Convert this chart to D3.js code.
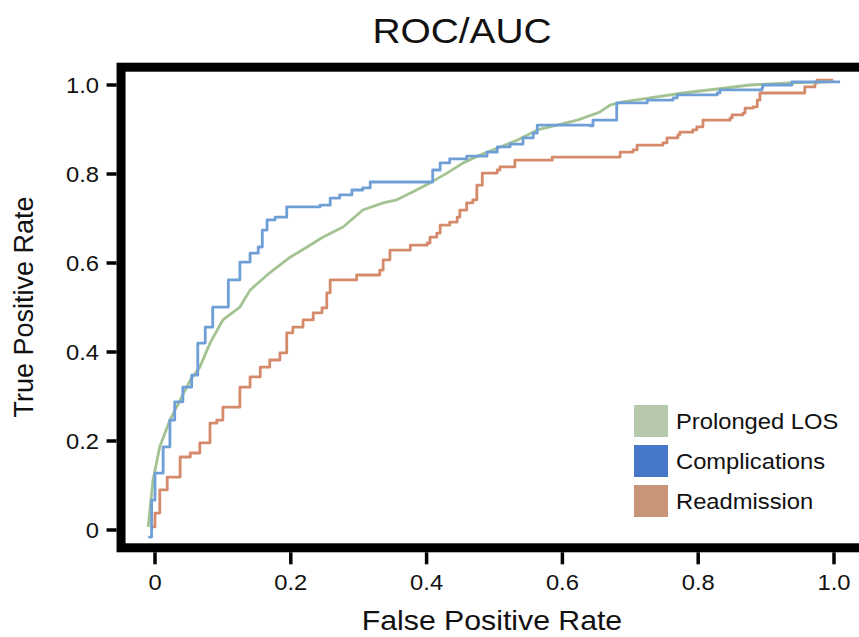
<!DOCTYPE html>
<html>
<head>
<meta charset="utf-8">
<script src="https://cdn.jsdelivr.net/npm/d3@7"></script>
<style>
  body { margin: 0; background: #fff; }
  text { font-family: "Liberation Sans", Arial, sans-serif; fill: #111; }
</style>
</head>
<body>
<div class="chart"></div>
<script>
var WIDTH = 859;
var HEIGHT = 637;
var STRETCH = 1.08; // the original lettering is a bit wider than Arial

var seriesNames = ['Prolonged LOS', 'Complications', 'Readmission'];
var swatchColours = ['#b7c9ad', '#4677c8', '#c99579'];
var lineColours = ['#a3c392', '#6f9fd6', '#d68a6c'];
var xTicks = [0, 0.2, 0.4, 0.6, 0.8, 1.0];
var yTicks = [0, 0.2, 0.4, 0.6, 0.8, 1.0];
var xTickLabels = ['0', '0.2', '0.4', '0.6', '0.8', '1.0'];
var yTickLabels = ['0', '0.2', '0.4', '0.6', '0.8', '1.0'];

// [false positive rate, true positive rate]
var prolongedLOS = [
  [-0.010, 0.007], [-0.003, 0.112], [0.007, 0.187], [0.022, 0.247], [0.037, 0.292],
  [0.052, 0.337], [0.066, 0.366], [0.081, 0.420], [0.100, 0.472], [0.125, 0.501],
  [0.140, 0.539], [0.169, 0.578], [0.199, 0.613], [0.224, 0.636], [0.247, 0.658],
  [0.277, 0.681], [0.306, 0.719], [0.336, 0.735], [0.356, 0.742], [0.380, 0.760],
  [0.405, 0.780], [0.430, 0.802], [0.454, 0.825], [0.479, 0.843], [0.504, 0.858],
  [0.533, 0.876], [0.563, 0.899], [0.592, 0.910], [0.622, 0.921], [0.655, 0.939],
  [0.670, 0.955], [0.689, 0.962], [0.729, 0.971], [0.778, 0.982], [0.828, 0.991],
  [0.876, 1.000], [0.925, 1.004], [0.994, 1.007]
];
var complications = [
  [-0.010, -0.016], [-0.005, 0.067], [0.000, 0.128], [0.012, 0.187], [0.022, 0.247],
  [0.029, 0.288], [0.041, 0.321], [0.054, 0.348], [0.063, 0.420], [0.074, 0.456],
  [0.085, 0.501], [0.096, 0.501], [0.108, 0.562], [0.125, 0.602], [0.140, 0.622],
  [0.152, 0.636], [0.158, 0.674], [0.165, 0.697], [0.177, 0.703], [0.194, 0.726],
  [0.243, 0.730], [0.258, 0.746], [0.272, 0.753], [0.290, 0.764], [0.306, 0.769],
  [0.317, 0.782], [0.405, 0.782], [0.409, 0.809], [0.420, 0.825], [0.434, 0.834],
  [0.459, 0.840], [0.489, 0.849], [0.504, 0.861], [0.523, 0.867], [0.542, 0.881],
  [0.557, 0.892], [0.563, 0.910], [0.601, 0.910], [0.641, 0.908], [0.645, 0.921],
  [0.675, 0.921], [0.680, 0.960], [0.725, 0.966], [0.763, 0.971], [0.769, 0.978],
  [0.828, 0.982], [0.832, 0.989], [0.894, 0.993], [0.895, 1.000], [0.935, 1.000],
  [0.938, 1.007], [1.009, 1.007]
];
var readmission = [
  [-0.007, 0.007], [0.000, 0.038], [0.007, 0.090], [0.018, 0.119], [0.032, 0.119],
  [0.037, 0.164], [0.052, 0.173], [0.066, 0.196], [0.081, 0.240], [0.091, 0.247],
  [0.100, 0.276], [0.110, 0.276], [0.125, 0.321], [0.140, 0.344], [0.155, 0.366],
  [0.169, 0.382], [0.184, 0.398], [0.194, 0.443], [0.203, 0.456], [0.218, 0.472],
  [0.233, 0.488], [0.246, 0.499], [0.253, 0.533], [0.258, 0.562], [0.292, 0.562],
  [0.297, 0.573], [0.331, 0.584], [0.336, 0.607], [0.346, 0.629], [0.376, 0.640],
  [0.401, 0.645], [0.405, 0.658], [0.415, 0.667], [0.420, 0.685], [0.434, 0.692],
  [0.445, 0.703], [0.449, 0.719], [0.459, 0.735], [0.468, 0.742], [0.474, 0.775],
  [0.482, 0.802], [0.504, 0.809], [0.508, 0.816], [0.527, 0.816], [0.530, 0.831],
  [0.579, 0.831], [0.585, 0.838], [0.680, 0.838], [0.685, 0.849], [0.704, 0.854],
  [0.710, 0.865], [0.748, 0.870], [0.754, 0.881], [0.770, 0.888], [0.773, 0.894],
  [0.792, 0.899], [0.798, 0.906], [0.807, 0.921], [0.847, 0.926], [0.850, 0.933],
  [0.866, 0.937], [0.869, 0.948], [0.881, 0.951], [0.887, 0.966], [0.891, 0.982],
  [0.954, 0.982], [0.957, 0.996], [0.972, 1.004], [0.975, 1.011], [0.999, 1.011]
];

var x = d3.scaleLinear().domain([0, 1]).range([155, 834]);
var y = d3.scaleLinear().domain([0, 1]).range([530, 85]);

var svg = d3.select('.chart')
    .append('svg')
    .attr('width', WIDTH)
    .attr('height', HEIGHT);

function place(px, py) {
    return 'translate(' + px + ',' + py + ')scale(' + STRETCH + ',1)';
}

// title
svg.append('text')
    .attr('transform', place(462, 43))
    .attr('text-anchor', 'middle')
    .style('font-size', '36px')
    .text('ROC/AUC');

// thick frame, right side runs past the window like the original
var FRAME = 9;
var fx0 = x(-0.05), fx1 = x(1.06), fy0 = y(1.04), fy1 = y(-0.04);
svg.append('rect')
    .attr('x', fx0)
    .attr('y', fy0)
    .attr('width', fx1 - fx0)
    .attr('height', fy1 - fy0)
    .attr('fill', 'none')
    .attr('stroke', '#000')
    .attr('stroke-width', FRAME);

// y ticks
svg.selectAll('.ytick')
    .data(yTicks)
    .enter().append('line')
    .attr('class', 'ytick')
    .attr('x1', fx0 - FRAME / 2)
    .attr('x2', fx0 - FRAME / 2 - 10)
    .attr('y1', (d) => y(d))
    .attr('y2', (d) => y(d))
    .attr('stroke', '#000')
    .attr('stroke-width', 3.5);

svg.selectAll('.ylabel')
    .data(yTicks)
    .enter().append('text')
    .attr('class', 'ylabel')
    .attr('transform', (d) => place(99, y(d)))
    .attr('dy', '0.36em')
    .attr('text-anchor', 'end')
    .style('font-size', '22px')
    .text((d, i) => yTickLabels[i]);

// x ticks
svg.selectAll('.xtick')
    .data(xTicks)
    .enter().append('line')
    .attr('class', 'xtick')
    .attr('x1', (d) => x(d))
    .attr('x2', (d) => x(d))
    .attr('y1', fy1 + FRAME / 2)
    .attr('y2', fy1 + FRAME / 2 + 12)
    .attr('stroke', '#000')
    .attr('stroke-width', 3.5);

svg.selectAll('.xlabel')
    .data(xTicks)
    .enter().append('text')
    .attr('class', 'xlabel')
    .attr('transform', (d) => place(x(d), 590))
    .attr('text-anchor', 'middle')
    .style('font-size', '22px')
    .text((d, i) => xTickLabels[i]);

// axis titles
svg.append('text')
    .attr('transform', place(492, 630))
    .attr('text-anchor', 'middle')
    .style('font-size', '28px')
    .text('False Positive Rate');

svg.append('text')
    .attr('transform', 'translate(33, 307)rotate(-90)')
    .attr('text-anchor', 'middle')
    .style('font-size', '27px')
    .text('True Positive Rate');

// curves: the two event curves are drawn as steps, LOS is near smooth
var stepLine = d3.line()
    .curve(d3.curveStepAfter)
    .x((d) => x(d[0]))
    .y((d) => y(d[1]));
var smoothLine = d3.line()
    .x((d) => x(d[0]))
    .y((d) => y(d[1]));

var curves = [
    { pts: readmission, colour: lineColours[2], gen: stepLine },
    { pts: prolongedLOS, colour: lineColours[0], gen: smoothLine },
    { pts: complications, colour: lineColours[1], gen: stepLine }
];

svg.append('g')
    .selectAll('path')
    .data(curves)
    .enter().append('path')
    .attr('d', (d) => d.gen(d.pts))
    .attr('fill', 'none')
    .attr('stroke', (d) => d.colour)
    .attr('stroke-width', 2.8)
    .attr('stroke-linejoin', 'round');

// legend
var legend = svg.append('g')
    .selectAll('g')
    .data(seriesNames)
    .enter().append('g')
    .attr('transform', (d, i) => 'translate(634, ' + (405 + i * 40) + ')');

legend.append('rect')
    .attr('width', 34)
    .attr('height', 32)
    .attr('fill', (d, i) => swatchColours[i]);

legend.append('text')
    .attr('transform', place(42, 24))
    .style('font-size', '22px')
    .text((d) => d);
</script>
</body>
</html>
